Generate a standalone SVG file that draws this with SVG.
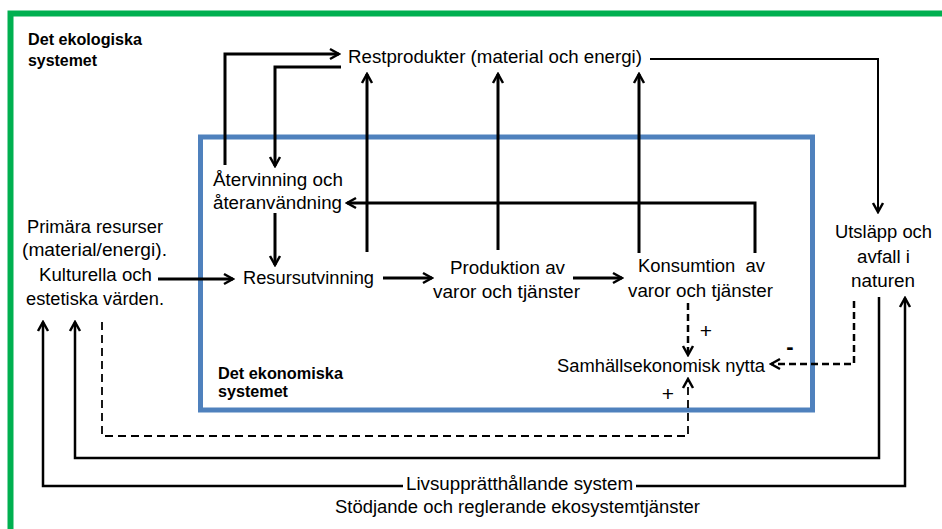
<svg xmlns="http://www.w3.org/2000/svg" width="942" height="529" viewBox="0 0 942 529">
  <style>
    text { font-family: "Liberation Sans", Arial, sans-serif; font-size: 17.5px; fill: #000; }
    .title { font-weight: bold; font-size: 16px; }
    .sign { font-size: 21px; text-anchor: middle; }
    .minus { font-size: 22px; font-weight: bold; text-anchor: middle; }
    .ln { fill: none; stroke: #000; stroke-width: 3; }
    .thin { fill: none; stroke: #000; stroke-width: 2; }
    .mid { fill: none; stroke: #000; stroke-width: 2.5; }
    .dash { fill: none; stroke: #000; stroke-width: 2.5; stroke-dasharray: 7 4; }
    .dash-thin { fill: none; stroke: #000; stroke-width: 1.8; stroke-dasharray: 8 5; }
  </style>
  <defs>
    <marker id="arr" viewBox="-11 -7 13 14" refX="0" refY="0" markerWidth="13" markerHeight="14" markerUnits="userSpaceOnUse" orient="auto">
      <path d="M-9,-5 L0,0 L-9,5" fill="none" stroke="#000" stroke-width="2.5" stroke-dasharray="none"/>
    </marker>
  </defs>

  <rect width="942" height="529" fill="#fff"/>

  <!-- outer ecological system frame -->
  <g id="ekologiska">
    <rect x="10.5" y="13.5" width="960" height="560" fill="none" stroke="#00B050" stroke-width="6"/>
    <text class="title" x="28" y="45" textLength="114" lengthAdjust="spacingAndGlyphs">Det ekologiska</text>
    <text class="title" x="28" y="66" textLength="69" lengthAdjust="spacingAndGlyphs">systemet</text>
  </g>

  <!-- inner economic system frame -->
  <g id="ekonomiska">
    <rect x="200.5" y="137" width="612" height="273" fill="none" stroke="#4F81BD" stroke-width="5"/>
    <text class="title" x="218" y="379" textLength="125" lengthAdjust="spacingAndGlyphs">Det ekonomiska</text>
    <text class="title" x="218" y="397" textLength="70" lengthAdjust="spacingAndGlyphs">systemet</text>
  </g>

  <!-- connectors -->
  <g id="connectors">
    <path class="ln" d="M225,165 V54 H339" marker-end="url(#arr)"/>
    <path class="ln" d="M341,67 H275 V166" marker-end="url(#arr)"/>
    <path class="ln" d="M367,252 V74" marker-end="url(#arr)"/>
    <path class="ln" d="M498,250 V74" marker-end="url(#arr)"/>
    <path class="ln" d="M639,253 V74" marker-end="url(#arr)"/>
    <path class="ln" d="M755,253 V203 H347" marker-end="url(#arr)"/>
    <path class="ln" d="M275,213 V265" marker-end="url(#arr)"/>
    <path class="ln" d="M158,279 H233" marker-end="url(#arr)"/>
    <path class="ln" d="M383,278 H432" marker-end="url(#arr)"/>
    <path class="ln" d="M573,278 H622" marker-end="url(#arr)"/>
    <path class="thin" d="M650,59 H878 V212" marker-end="url(#arr)"/>
    <path class="dash" d="M688,303 V355" marker-end="url(#arr)"/>
    <path class="dash" d="M854,301 V364 H771" marker-end="url(#arr)"/>
    <path class="dash-thin" d="M102,322 V436 H688 V379" marker-end="url(#arr)"/>
    <path class="mid" d="M879,297 V458 H75 V322" marker-end="url(#arr)"/>
    <path class="mid" d="M403,486 H43 V322" marker-end="url(#arr)"/>
    <path class="mid" d="M636,486 H905 V298" marker-end="url(#arr)"/>
  </g>

  <g id="restprodukter">
    <text x="348" y="63" textLength="294" lengthAdjust="spacingAndGlyphs">Restprodukter (material och energi)</text>
  </g>

  <g id="atervinning">
    <text x="213" y="186" textLength="130" lengthAdjust="spacingAndGlyphs">Återvinning och</text>
    <text x="213" y="209" textLength="129" lengthAdjust="spacingAndGlyphs">återanvändning</text>
  </g>

  <g id="primara-resurser">
    <text x="27" y="233" textLength="136" lengthAdjust="spacingAndGlyphs">Primära resurser</text>
    <text x="22" y="256" textLength="145" lengthAdjust="spacingAndGlyphs">(material/energi).</text>
    <text x="39" y="281" textLength="113" lengthAdjust="spacingAndGlyphs">Kulturella och</text>
    <text x="26" y="305" textLength="138" lengthAdjust="spacingAndGlyphs">estetiska värden.</text>
  </g>

  <g id="resursutvinning">
    <text x="243" y="284" textLength="131" lengthAdjust="spacingAndGlyphs">Resursutvinning</text>
  </g>

  <g id="produktion">
    <text x="450" y="274" textLength="115" lengthAdjust="spacingAndGlyphs">Produktion av</text>
    <text x="433" y="298" textLength="147" lengthAdjust="spacingAndGlyphs">varor och tjänster</text>
  </g>

  <g id="konsumtion">
    <text x="638" y="272" textLength="127" lengthAdjust="spacingAndGlyphs" xml:space="preserve">Konsumtion  av</text>
    <text x="628" y="297" textLength="145" lengthAdjust="spacingAndGlyphs">varor och tjänster</text>
  </g>

  <g id="samhallsekonomisk-nytta">
    <text x="557" y="372" textLength="208" lengthAdjust="spacingAndGlyphs">Samhällsekonomisk nytta</text>
    <text class="sign" x="706" y="338">+</text>
    <text class="minus" x="790" y="354">-</text>
    <text class="sign" x="668" y="401">+</text>
  </g>

  <g id="utslapp">
    <text x="835" y="238" textLength="97" lengthAdjust="spacingAndGlyphs">Utsläpp och</text>
    <text x="857" y="263" textLength="53" lengthAdjust="spacingAndGlyphs">avfall i</text>
    <text x="851" y="287" textLength="64" lengthAdjust="spacingAndGlyphs">naturen</text>
  </g>

  <g id="livsupprathallande">
    <text x="406" y="490" textLength="227" lengthAdjust="spacingAndGlyphs">Livsupprätthållande system</text>
    <text x="335" y="513" textLength="365" lengthAdjust="spacingAndGlyphs">Stödjande och reglerande ekosystemtjänster</text>
  </g>
</svg>
